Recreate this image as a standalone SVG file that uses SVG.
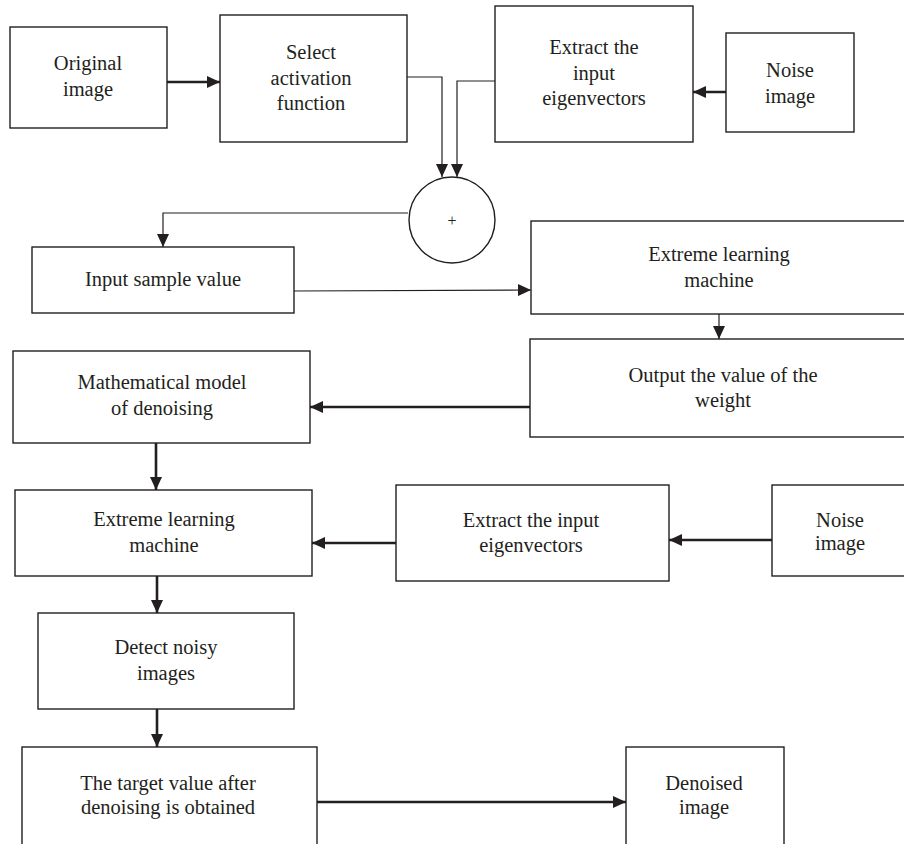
<svg xmlns="http://www.w3.org/2000/svg" width="904" height="844" viewBox="0 0 904 844">
<style>
.box{fill:#fff;stroke:#231f20;stroke-width:1.4}
.t{font-family:"Liberation Serif","Times New Roman",serif;font-size:20.5px;fill:#231f20;text-anchor:middle}
.thin{fill:none;stroke:#231f20;stroke-width:1.2}
.thick{fill:none;stroke:#231f20;stroke-width:2.6}
</style>
<defs>
<marker id="ah" viewBox="0 0 13 12" refX="13" refY="6" markerWidth="13" markerHeight="12" markerUnits="userSpaceOnUse" orient="auto">
<path d="M0,0 L13,6 L0,12 z" fill="#231f20"/>
</marker>
</defs>
<rect width="904" height="844" fill="#fff"/>
<g id="connectors">
<path class="thick" d="M167,82 H220" marker-end="url(#ah)"/>
<path class="thick" d="M726,92 H693" marker-end="url(#ah)"/>
<path class="thin" d="M407,77 H442 V177" marker-end="url(#ah)"/>
<path class="thin" d="M495,81 H457 V177" marker-end="url(#ah)"/>
<path class="thin" d="M408,213 H163 V247" marker-end="url(#ah)"/>
<path class="thin" d="M294,291 L531,290" marker-end="url(#ah)"/>
<path class="thin" d="M719,314 V339" marker-end="url(#ah)"/>
<path class="thick" d="M530,407 H310" marker-end="url(#ah)"/>
<path class="thick" d="M156,443 V490" marker-end="url(#ah)"/>
<path class="thick" d="M396,543 H312" marker-end="url(#ah)"/>
<path class="thick" d="M772,540 H669" marker-end="url(#ah)"/>
<path class="thick" d="M157,576 V613" marker-end="url(#ah)"/>
<path class="thick" d="M157,709 V747" marker-end="url(#ah)"/>
<path class="thick" d="M317,802 H626" marker-end="url(#ah)"/>
</g>
<g id="original">
<rect class="box" x="10" y="27" width="157" height="101"/>
<text class="t" x="88" y="70">Original</text>
<text class="t" x="88" y="96">image</text>
</g>
<g id="select">
<rect class="box" x="220" y="15" width="187" height="127"/>
<text class="t" x="311" y="59">Select</text>
<text class="t" x="311" y="85">activation</text>
<text class="t" x="311" y="110">function</text>
</g>
<g id="extract1">
<rect class="box" x="495" y="6" width="198" height="136"/>
<text class="t" x="594" y="54">Extract the</text>
<text class="t" x="594" y="80">input</text>
<text class="t" x="594" y="105">eigenvectors</text>
</g>
<g id="noise1">
<rect class="box" x="726" y="33" width="128" height="99"/>
<text class="t" x="790" y="77">Noise</text>
<text class="t" x="790" y="103">image</text>
</g>
<g id="sum">
<circle class="box" cx="452" cy="220" r="43"/>
<text class="t" x="452" y="226" style="font-size:16px">+</text>
</g>
<g id="input">
<rect class="box" x="32" y="247" width="262" height="66"/>
<text class="t" x="163" y="286">Input sample value</text>
</g>
<g id="elm1">
<rect class="box" x="531" y="221" width="390" height="93"/>
<text class="t" x="719" y="261">Extreme learning</text>
<text class="t" x="719" y="287">machine</text>
</g>
<g id="output">
<rect class="box" x="530" y="339" width="391" height="98"/>
<text class="t" x="723" y="382">Output the value of the</text>
<text class="t" x="723" y="407">weight</text>
</g>
<g id="math">
<rect class="box" x="13" y="351" width="297" height="92"/>
<text class="t" x="162" y="389">Mathematical model</text>
<text class="t" x="162" y="415">of denoising</text>
</g>
<g id="elm2">
<rect class="box" x="15" y="490" width="297" height="86"/>
<text class="t" x="164" y="526">Extreme learning</text>
<text class="t" x="164" y="552">machine</text>
</g>
<g id="extract2">
<rect class="box" x="396" y="485" width="273" height="96"/>
<text class="t" x="531" y="527">Extract the input</text>
<text class="t" x="531" y="552">eigenvectors</text>
</g>
<g id="noise2">
<rect class="box" x="772" y="485" width="150" height="91"/>
<text class="t" x="840" y="527">Noise</text>
<text class="t" x="840" y="550">image</text>
</g>
<g id="detect">
<rect class="box" x="38" y="613" width="256" height="96"/>
<text class="t" x="166" y="654">Detect noisy</text>
<text class="t" x="166" y="680">images</text>
</g>
<g id="target">
<rect class="box" x="22" y="747" width="295" height="110"/>
<text class="t" x="168" y="790">The target value after</text>
<text class="t" x="168" y="814">denoising is obtained</text>
</g>
<g id="denoised">
<rect class="box" x="626" y="747" width="158" height="110"/>
<text class="t" x="704" y="790">Denoised</text>
<text class="t" x="704" y="814">image</text>
</g>
</svg>
